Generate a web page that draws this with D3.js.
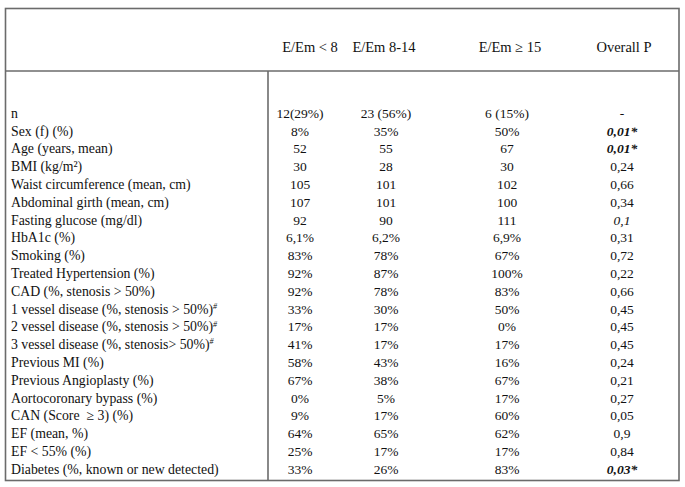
<!DOCTYPE html>
<html><head><meta charset="utf-8">
<script src="https://cdn.jsdelivr.net/npm/d3@7"></script>
<style>body{margin:0;background:#fff} text{white-space:pre}</style>
</head><body>
<script>
const headers = ["E/Em < 8", "E/Em 8-14", "E/Em \u2265 15", "Overall P"];
const rowLabels = ["n","Sex (f) (%)","Age (years, mean)","BMI (kg/m\u00B2)","Waist circumference (mean, cm)","Abdominal girth (mean, cm)","Fasting glucose (mg/dl)","HbA1c (%)","Smoking (%)","Treated Hypertension (%)","CAD (%, stenosis > 50%)","1 vessel disease (%, stenosis > 50%)","2 vessel disease (%, stenosis > 50%)","3 vessel disease (%, stenosis> 50%)","Previous MI (%)","Previous Angioplasty (%)","Aortocoronary bypass (%)","CAN (Score  \u2265 3) (%)","EF (mean, %)","EF < 55% (%)","Diabetes (%, known or new detected)"];
const footnoted = ["1 vessel disease (%, stenosis > 50%)","2 vessel disease (%, stenosis > 50%)","3 vessel disease (%, stenosis> 50%)"];
const emLow = ["12(29%)","8%","52","30","105","107","92","6,1%","83%","92%","92%","33%","17%","41%","58%","67%","0%","9%","64%","25%","33%"];
const emMid = ["23 (56%)","35%","55","28","101","101","90","6,2%","78%","87%","78%","30%","17%","17%","43%","38%","5%","17%","65%","17%","26%"];
const emHigh = ["6 (15%)","50%","67","30","102","100","111","6,9%","67%","100%","83%","50%","0%","17%","16%","67%","17%","60%","62%","17%","83%"];
const pValues = ["-","0,01*","0,01*","0,24","0,66","0,34","0,1","0,31","0,72","0,22","0,66","0,45","0,45","0,45","0,24","0,21","0,27","0,05","0,9","0,84","0,03*"];

const W = 685, H = 487;
const svg = d3.select("body").append("svg").attr("width", W).attr("height", H)
  .style("font-family", "'Liberation Serif','Times New Roman',serif");

const box = {l: 5.5, r: 679, t: 8.5, b: 480.5, headLine: 71, split: 268};
const lineColor = "#6b6b6b";

svg.append("rect").attr("x", box.l).attr("y", box.t)
  .attr("width", box.r - box.l).attr("height", box.b - box.t)
  .attr("fill", "none").attr("stroke", lineColor).attr("stroke-width", 1.6);
svg.append("line").attr("x1", box.l).attr("x2", box.r).attr("y1", box.headLine).attr("y2", box.headLine)
  .attr("stroke", lineColor).attr("stroke-width", 1.6);
svg.append("line").attr("x1", box.split).attr("x2", box.split).attr("y1", box.headLine).attr("y2", box.b)
  .attr("stroke", lineColor).attr("stroke-width", 1.6);

const cols = [emLow, emMid, emHigh, pValues];
const colX = d3.scaleOrdinal().domain(d3.range(4)).range([300, 386, 507, 622]);
const headX = d3.scaleOrdinal().domain(headers).range([310, 384, 510, 624]);
const y = d3.scalePoint().domain(rowLabels).range([113, 469]);

svg.append("g").selectAll("text").data(headers).join("text")
  .attr("x", d => headX(d)).attr("y", 47).attr("dy", "0.35em")
  .attr("text-anchor", "middle").attr("font-size", 14.5).attr("fill", "#111")
  .text(d => d);

const lab = svg.append("g").selectAll("text").data(rowLabels).join("text")
  .attr("x", 11).attr("y", d => y(d)).attr("dy", "0.35em")
  .attr("font-size", 13.8).attr("fill", "#111");
lab.append("tspan").text(d => d);
lab.filter(d => footnoted.includes(d)).append("tspan")
  .attr("font-size", 8).attr("dy", "-0.6em").attr("font-style", "italic").text("#");

cols.forEach((vals, ci) => {
  svg.append("g").selectAll("text").data(vals).join("text")
    .attr("x", colX(ci)).attr("y", (d, i) => y(rowLabels[i])).attr("dy", "0.35em")
    .attr("text-anchor", "middle").attr("font-size", 13.5).attr("fill", "#111")
    .attr("font-weight", d => ci === 3 && d.endsWith("*") ? "bold" : null)
    .attr("font-style", d => ci === 3 && (d.endsWith("*") || d === "0,1") ? "italic" : null)
    .text(d => d);
});
</script>
</body></html>
